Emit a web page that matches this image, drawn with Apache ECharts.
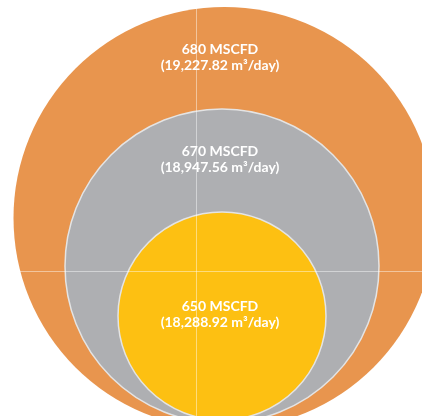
<!DOCTYPE html>
<html>
<head>
<meta charset="utf-8">
<script src="https://cdn.jsdelivr.net/npm/echarts@6/dist/echarts.min.js"></script>
<style>
  html, body { margin: 0; padding: 0; background: #ffffff; }
  #chart { width: 422px; height: 416px; }
</style>
</head>
<body>
<div id="chart"></div>
<script>
// Gas flow capacities, outer ring to inner core
const flowRates = ['680 MSCFD', '670 MSCFD', '650 MSCFD'];
const dailyVolumes = ['19,227.82', '18,947.56', '18,288.92'];
// Bubble centre and radius, in axis units
const bubbleX = [28.5, 26, 26];
const bubbleY = [53, 5, -45];
const bubbleR = [211, 157, 104];

const fills = ['#E8954E', '#AEAFB2', '#FDC012'];

const chart = echarts.init(document.getElementById('chart'), null, { renderer: 'canvas' });

const axisCommon = {
  type: 'value',
  z: 10,
  axisLabel: { show: false },
  axisTick: { show: false },
  splitLine: { show: false },
  axisLine: { show: true, onZero: true, lineStyle: { color: 'rgba(255,255,255,0.45)', width: 1 } }
};

chart.setOption({
  animation: false,
  backgroundColor: '#ffffff',
  grid: { left: 0, right: 0, top: 0, bottom: 0 },
  xAxis: Object.assign({}, axisCommon, { min: -196, max: 226 }),
  yAxis: Object.assign({}, axisCommon, { min: -145, max: 271 }),
  series: [{
    type: 'custom',
    clip: false,
    data: bubbleX.map((x, i) => [x, bubbleY[i], bubbleR[i]]),
    renderItem(params, api) {
      const i = params.dataIndex;
      const c = api.coord([api.value(0), api.value(1)]);
      const r = api.size([api.value(2), 0])[0];
      const innermost = i === bubbleR.length - 1;
      // outer rings carry their caption near the top, the core at its centre
      const ty = innermost ? c[1] - 2 : c[1] - r + 50;
      return {
        type: 'group',
        children: [
          {
            type: 'circle',
            shape: { cx: c[0], cy: c[1], r: r },
            style: {
              fill: fills[i],
              stroke: i === 0 ? null : '#E4E4E4',
              lineWidth: i === 0 ? 0 : 1.5
            }
          },
          {
            type: 'text',
            x: 220,
            y: ty,
            style: {
              text: flowRates[i] + '\n(' + dailyVolumes[i] + ' m³/day)',
              fill: '#ffffff',
              font: 'bold 14px Lato',
              align: 'center',
              verticalAlign: 'middle',
              lineHeight: 16
            }
          }
        ]
      };
    }
  }]
});
</script>
</body>
</html>
